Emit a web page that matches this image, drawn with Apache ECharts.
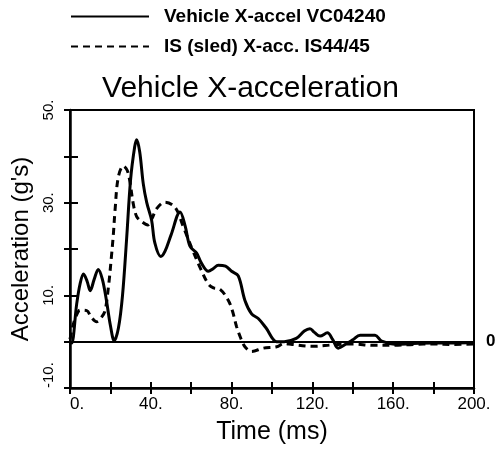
<!DOCTYPE html>
<html><head><meta charset="utf-8">
<script src="https://cdn.jsdelivr.net/npm/echarts@6/dist/echarts.min.js"></script>
<style>html,body{margin:0;padding:0;background:#fff}#c{width:501px;height:450px}</style>
</head><body><div id="c"></div>
<script>
const vehicleTime  = [0,0.8,3.3,5,6.7,8.5,10,12,14,16,18,20,21.9,24,26,28,30,32,33,34.5,36.3,38,40.4,42,44.9,47,50,54.5,57,59.4,62.7,65,68.5,71,73.4,77,80,83.3,86.6,89.9,93.2,97,102.3,106,112,116,118.8,121,123.8,127.4,130,132.8,137,140,143.6,151,154.3,161.7,170,180,190,200];
const vehicleAccel = [0,-0.3,8.1,12.5,14.6,13,11,13.5,15.6,13.5,9,3.5,0.2,3,10,22,35,42,43.6,41,34,30,26.2,21.3,18.4,19.5,23,28,25,20.6,19.1,17,15.2,15.8,16.5,16.3,15.2,14.2,8.9,6,5,3,0,0,0.7,2.3,2.8,2,1.2,1.9,0.5,-1.4,-0.4,0.4,1.4,1.4,0.1,-0.6,-0.4,-0.3,-0.3,-0.2];
const sledTime  = [0,1.5,3,5,8.3,10.5,13.2,15.5,17.3,19,20.6,21.5,22.3,23.9,26.4,28.3,29.7,31.3,33,35.5,38.5,40.5,42.9,47,52,56.1,60,64.4,68.5,71,74.3,78.4,80.5,82.5,84.5,86.6,89.9,95.7,102.3,106,110,120,130,140,150,160,170,180,190,200];
const sledAccel = [0.5,3.5,5.5,6.8,6.7,5.3,4.3,5.2,6.6,11.7,18.8,23.4,28.4,35.5,37.9,37,34.4,29.8,27,25.9,25.2,26.5,28.7,30.1,29,24.8,20.5,16,12.4,11.6,11.3,8.9,6.5,3.2,0.8,-1.1,-2.1,-1.4,-1.1,-0.4,-0.6,-1.0,-0.7,-0.5,-0.8,-0.8,-0.6,-0.5,-0.6,-0.5];
const seriesNames = ['Vehicle X-accel VC04240', 'IS (sled) X-acc. IS44/45'];
const chartTitle = 'Vehicle X-acceleration';
const xName = 'Time (ms)';
const yName = "Acceleration (g's)";

const pair = (t, v) => t.map((x, i) => [x, v[i]]);
const FONT = 'Liberation Sans, Arial, Helvetica, sans-serif';
const chart = echarts.init(document.getElementById('c'), null, {renderer: 'canvas'});
const legendCommon = {
  left: 70, orient: 'horizontal', itemWidth: 78, itemHeight: 14, padding: 0,
  itemStyle: {opacity: 0, borderWidth: 0},
  textStyle: {fontFamily: FONT, fontSize: 19, fontWeight: 'bold', color: '#000', padding: [0, 0, 0, 10]},
  selectedMode: false
};
chart.setOption({
  animation: false,
  backgroundColor: '#fff',
  title: {text: chartTitle, left: 'center', top: 69,
    textStyle: {fontFamily: FONT, fontSize: 30, fontWeight: 'normal', color: '#000'}},
  legend: [
    Object.assign({}, legendCommon, {top: 7, data: [seriesNames[0]]}),
    Object.assign({}, legendCommon, {top: 37, data: [seriesNames[1]]})
  ],
  grid: {left: 70, right: 27, top: 110, bottom: 58, show: true, borderColor: '#000', borderWidth: 2},
  xAxis: [
    {type: 'value', min: 0, max: 200, interval: 20, position: 'bottom',
     name: xName, nameLocation: 'middle', nameGap: 32,
     nameTextStyle: {fontFamily: FONT, fontSize: 25, color: '#000'},
     axisLine: {show: true, onZero: false, lineStyle: {color: '#000', width: 2.5}},
     axisTick: {show: true, inside: false, length: 6, lineStyle: {color: '#000', width: 2}},
     axisLabel: {fontFamily: FONT, fontSize: 17, color: '#000', margin: 8, alignMinLabel: 'left',
       formatter: v => (v % 40 === 0 ? v + '.' : '')},
     splitLine: {show: false}},
    {type: 'value', min: 0, max: 200, interval: 20, position: 'bottom', gridIndex: 0,
     axisLine: {show: false, onZero: false},
     axisTick: {show: true, inside: true, length: 6, lineStyle: {color: '#000', width: 2}},
     axisLabel: {show: false}, splitLine: {show: false}}
  ],
  yAxis: [
    {type: 'value', min: -10, max: 50, interval: 10, position: 'left',
     name: yName, nameLocation: 'middle', nameGap: 33,
     nameTextStyle: {fontFamily: FONT, fontSize: 24, color: '#000'},
     axisLine: {show: true, onZero: false, lineStyle: {color: '#000', width: 2.5}},
     axisTick: {show: true, inside: false, length: 6, lineStyle: {color: '#000', width: 2}},
     axisLabel: {fontFamily: FONT, fontSize: 15, color: '#000', rotate: 90, margin: 14, alignMinLabel: 'left',
       formatter: v => ((v + 10) % 20 === 0 ? v + '.' : '')},
     splitLine: {show: false}},
    {type: 'value', min: -10, max: 50, interval: 10, position: 'left',
     axisLine: {show: false, onZero: false},
     axisTick: {show: true, inside: true, length: 8, lineStyle: {color: '#000', width: 2}},
     axisLabel: {show: false}, splitLine: {show: false}}
  ],
  series: [
    {name: seriesNames[0], type: 'line', smooth: 0.35, symbol: 'none',
     data: pair(vehicleTime, vehicleAccel),
     lineStyle: {color: '#000', width: 3, type: 'solid'},
     itemStyle: {color: '#000'},
     markLine: {silent: true, symbol: 'none',
       lineStyle: {color: '#000', width: 2, type: 'solid'},
       label: {show: true, position: 'end', formatter: '0', distance: 12,
         fontFamily: FONT, fontSize: 17, fontWeight: 'bold', color: '#000'},
       data: [{yAxis: 0}]}},
    {name: seriesNames[1], type: 'line', smooth: 0.35, symbol: 'none',
     data: pair(sledTime, sledAccel),
     lineStyle: {color: '#000', width: 3, type: [7, 5]},
     itemStyle: {color: '#000'}}
  ]
});
</script></body></html>
